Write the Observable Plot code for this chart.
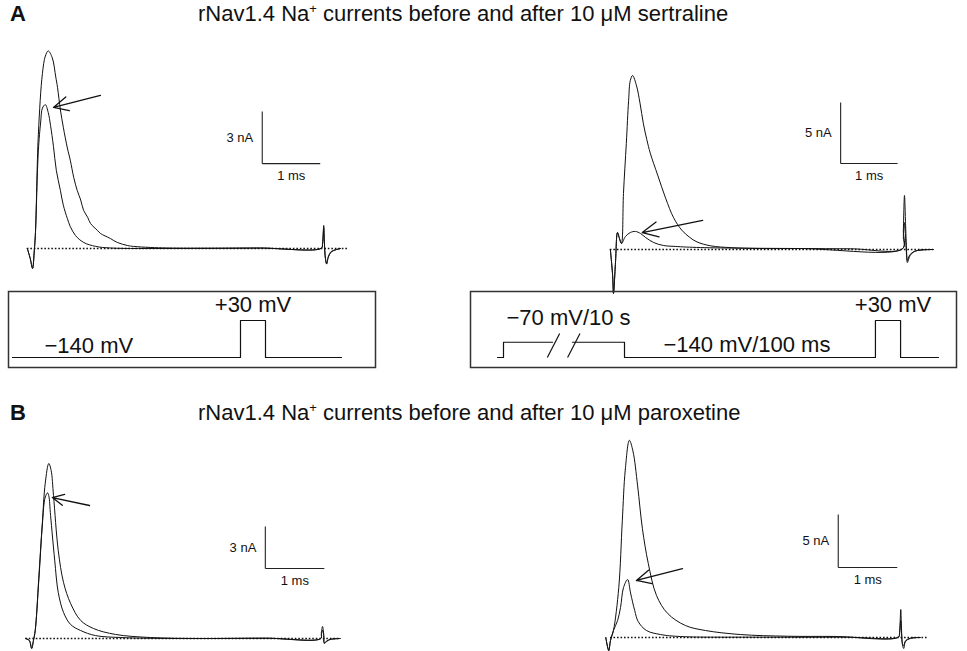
<!DOCTYPE html>
<html><head><meta charset="utf-8">
<script src="https://cdn.jsdelivr.net/npm/d3@7"></script>
<script src="https://cdn.jsdelivr.net/npm/@observablehq/plot@0.6"></script>
<style>
body{margin:0;background:#fff;}
#fig{position:relative;width:967px;height:651px;font-family:"Liberation Sans",Arial,Helvetica,sans-serif;color:#111;overflow:hidden;background:#fff}
.abs{position:absolute;white-space:nowrap}
.letter{font-weight:bold;font-size:22px;line-height:22px}
.title{font-size:22px;line-height:22px}
.title sup{font-size:13px;vertical-align:0;position:relative;top:-8px}
</style></head><body><div id="fig"></div>
<script>
// ---------------- data ----------------
const rowLetters = ["A", "B"];
const drugNames = ["sertraline", "paroxetine"];
const titleHead = "rNav1.4 Na";
const titleTail = " currents before and after 10 \u03bcM ";

// traces: [time (ms), current (nA)]
const aLeftControl = [[-0.02,0],[0.03,-0.58],[0.07,-1.15],[0.10,-0.12],[0.12,0.92],[0.17,6.6],[0.24,10.1],[0.29,11.1],[0.34,11.4],[0.41,11.0],[0.47,9.9],[0.50,9.3],[0.55,8.0],[0.60,7.0],[0.67,5.8],[0.72,5.1],[0.78,4.1],[0.84,3.35],[0.90,2.8],[0.95,2.2],[1.02,1.8],[1.07,1.44],[1.19,1.04],[1.24,0.87],[1.41,0.58],[1.53,0.35],[1.71,0.17],[1.81,0.12],[2.10,0.06],[2.40,0.03],[3.2,0.02],[4.0,0.03],[5.05,0.02],[5.07,0.3],[5.09,1.33],[5.10,0.46],[5.12,-0.58],[5.14,-0.87],[5.17,-0.46],[5.22,-0.17],[5.31,-0.06],[5.38,0]];
const aLeftDrug = [[-0.02,0],[0.03,-0.58],[0.07,-1.15],[0.10,-0.12],[0.12,0.92],[0.17,5.65],[0.21,7.3],[0.24,8.1],[0.29,8.3],[0.34,7.85],[0.38,7.1],[0.43,5.9],[0.48,4.5],[0.55,3.35],[0.60,2.5],[0.67,1.73],[0.72,1.27],[0.81,0.75],[0.95,0.35],[1.16,0.12],[1.41,0.03],[2.5,0],[4.0,0.02],[5.05,0.02],[5.07,0.3],[5.09,1.2],[5.10,0.4],[5.12,-0.6],[5.14,-0.9],[5.17,-0.5],[5.22,-0.2],[5.31,-0.06],[5.38,0]];
const aRightControl = [[-0.02,0],[0.02,-2.13],[0.035,-3.6],[0.07,-1.07],[0.105,1.39],[0.14,0.9],[0.175,0.49],[0.21,4.6],[0.26,8.7],[0.30,12.2],[0.33,13.85],[0.37,14.26],[0.44,13.4],[0.50,12.0],[0.56,10.3],[0.62,9.0],[0.68,7.9],[0.81,6.1],[0.95,4.2],[1.09,2.6],[1.23,1.6],[1.37,1.0],[1.50,0.62],[1.74,0.3],[2.1,0.15],[2.6,0.08],[3.32,0.08],[4.2,0.06],[5.11,0.08],[5.12,1.56],[5.14,4.43],[5.16,1.97],[5.18,-0.49],[5.19,-1.07],[5.24,-0.49],[5.31,-0.16],[5.45,-0.04],[5.65,0]];
const aRightDrug = [[-0.02,0],[0.02,-2.13],[0.035,-3.6],[0.07,-1.07],[0.105,1.39],[0.14,0.9],[0.175,0.49],[0.245,1.07],[0.33,1.39],[0.42,1.48],[0.51,1.31],[0.60,0.98],[0.74,0.57],[0.91,0.33],[1.12,0.25],[1.56,0.16],[3.32,0.08],[5.11,0.08],[5.12,1.07],[5.14,2.2],[5.16,0.9],[5.18,-0.66],[5.19,-0.9],[5.24,-0.4],[5.37,-0.08],[5.65,0]];
const bLeftControl = [[-0.08,0],[-0.02,-0.14],[0.02,-0.71],[0.05,-0.14],[0.08,0.57],[0.14,4.1],[0.20,8.2],[0.25,11.1],[0.31,12.5],[0.35,12.0],[0.39,10.2],[0.47,6.3],[0.56,4.0],[0.68,2.5],[0.85,1.29],[1.07,0.71],[1.44,0.29],[2.03,0.07],[2.88,0],[4.0,0.02],[4.92,0],[4.93,0.43],[4.95,0.86],[4.97,0.29],[4.98,-0.36],[5.02,-0.21],[5.08,-0.07],[5.25,0]];
const bLeftDrug = [[-0.08,0],[-0.02,-0.14],[0.02,-0.71],[0.05,-0.14],[0.08,0.57],[0.14,4.3],[0.20,8.1],[0.25,10.1],[0.29,10.4],[0.31,10.2],[0.34,8.8],[0.41,5.6],[0.47,3.3],[0.56,1.86],[0.68,1.0],[0.85,0.57],[1.10,0.21],[1.53,0.07],[2.5,0],[4.0,0.02],[4.92,0],[4.93,0.3],[4.95,0.6],[4.97,0.2],[4.98,-0.3],[5.02,-0.18],[5.08,-0.06],[5.25,0]];
const bRightControl = [[-0.08,0],[-0.03,-1.23],[0,-0.28],[0.05,0.66],[0.14,4.7],[0.20,11.0],[0.25,15.8],[0.32,18.6],[0.38,17.6],[0.46,14.3],[0.54,10.3],[0.64,7.0],[0.78,3.96],[0.97,2.26],[1.27,1.13],[1.61,0.66],[2.2,0.28],[3.0,0.12],[3.8,0.1],[4.88,0.05],[4.90,0.66],[4.92,2.64],[4.93,1.13],[4.95,-0.75],[4.97,-1.04],[5.0,-0.38],[5.08,-0.09],[5.25,0]];
const bRightDrug = [[-0.08,0],[-0.03,-1.23],[0,-0.28],[0.05,0.66],[0.12,1.6],[0.17,2.83],[0.22,4.7],[0.29,5.47],[0.34,4.2],[0.41,2.55],[0.47,1.5],[0.61,0.66],[0.85,0.28],[1.19,0.09],[2.5,0.03],[4.0,0.03],[4.88,0.03],[4.90,0.4],[4.92,1.6],[4.93,0.7],[4.95,-0.6],[4.97,-0.8],[5.0,-0.3],[5.08,-0.07],[5.25,0]];

// scale bars: [ms, nA]
const scaleBarMs = [1, 1, 1, 1];
const scaleBarNA = [3, 5, 3, 5];
const scaleBarLabels = ["3 nA", "5 nA", "3 nA", "5 nA"];

// stimulation protocols (schematic time units, mV)
const protoLeftTime = [0, 69.3, 69.3, 76.9, 76.9, 100];
const protoLeftVolt = [-140, -140, 30, 30, -140, -140];
const protoRightTime = [0, 1.36, 1.36, 12.5, 17.0, 28.8, 28.8, 85.7, 85.7, 91.4, 91.4, 100];
const protoRightVolt = [-140, -140, -70, -70, -70, -70, -140, -140, 30, 30, -140, -140];
const protoRightSegment = [0, 0, 0, 0, 1, 1, 1, 1, 1, 1, 1, 1];
const protoLeftLabels = ["\u2212140 mV", "+30 mV"];
const protoRightLabels = ["\u221270 mV/10 s", "\u2212140 mV/100 ms", "+30 mV"];

// ---------------- layout ----------------
const FONT = '"Liberation Sans", Arial, Helvetica, sans-serif';
const fig = document.getElementById("fig");
const svgStyle = {background: "transparent", overflow: "visible", maxWidth: "none", position: "absolute", fontFamily: FONT};

function place(node, left, top) {
  node.style.left = left + "px";
  node.style.top = top + "px";
  fig.appendChild(node);
}

// headers
const headerTop = [3, 402];
rowLetters.forEach((L, i) => {
  const d = document.createElement("div");
  d.className = "abs letter"; d.textContent = L;
  place(d, 10, headerTop[i]);
  const t = document.createElement("div");
  t.className = "abs title";
  t.append(titleHead);
  const s = document.createElement("sup"); s.textContent = "+"; t.append(s);
  t.append(titleTail + drugNames[i]);
  place(t, 198, headerTop[i]);
});

const toPts = a => a.map(([t, i]) => ({t, i}));

const panels = [
  {left: 0, top: 40, width: 380, height: 250, x0: 28, pxMs: 58, y0: 208, pxNA: 17.33,
   ctrl: aLeftControl, drug: aLeftDrug, dotted: [-0.02, 5.5], bar: {t: 4.03, i: 4.9},
   arrow: {t1: 1.24, i1: 8.83, t2: 0.43, i2: 8.14}},
  {left: 590, top: 40, width: 377, height: 260, x0: 21, pxMs: 57, y0: 209, pxNA: 12.2,
   ctrl: aRightControl, drug: aRightDrug, dotted: [-0.02, 5.65], bar: {t: 4.02, i: 7.05},
   arrow: {t1: 1.60, i1: 2.38, t2: 0.54, i2: 1.39}},
  {left: 0, top: 440, width: 380, height: 211, x0: 30, pxMs: 59, y0: 198, pxNA: 14,
   ctrl: bLeftControl, drug: bLeftDrug, dotted: [-0.08, 5.25], bar: {t: 3.98, i: 5.0},
   arrow: {t1: 1.0, i1: 9.5, t2: 0.37, i2: 10.07}},
  {left: 590, top: 425, width: 377, height: 226, x0: 20, pxMs: 59, y0: 212, pxNA: 10.6,
   ctrl: bRightControl, drug: bRightDrug, dotted: [0, 5.37], bar: {t: 3.86, i: 6.6},
   arrow: {t1: 1.22, i1: 6.5, t2: 0.44, i2: 5.38}}
];

panels.forEach((p, k) => {
  const ms = scaleBarMs[k], na = scaleBarNA[k];
  const b = p.bar;
  const svg = Plot.plot({
    width: p.width, height: p.height, margin: 0,
    style: svgStyle,
    x: {axis: null, domain: [0, 1], range: [p.x0, p.x0 + p.pxMs]},
    y: {axis: null, domain: [0, 1], range: [p.y0, p.y0 - p.pxNA]},
    marks: [
      Plot.ruleY([0], {x1: p.dotted[0], x2: p.dotted[1], stroke: "#111", strokeWidth: 1.6, strokeDasharray: "1.6,1.9"}),
      Plot.line(toPts(p.ctrl), {x: "t", y: "i", stroke: "#111", strokeWidth: 1, curve: "catmull-rom"}),
      Plot.line(toPts(p.drug), {x: "t", y: "i", stroke: "#111", strokeWidth: 1, curve: "catmull-rom"}),
      Plot.arrow([p.arrow], {x1: "t1", y1: "i1", x2: "t2", y2: "i2", stroke: "#111", strokeWidth: 1.3, headLength: 20, headAngle: 52}),
      Plot.link([{x1: b.t, y1: b.i, x2: b.t, y2: b.i + na}, {x1: b.t, y1: b.i, x2: b.t + ms, y2: b.i}],
        {x1: "x1", y1: "y1", x2: "x2", y2: "y2", stroke: "#222", strokeWidth: 1.1}),
      Plot.text([scaleBarLabels[k]], {x: b.t, y: b.i + na / 2, text: d => d, textAnchor: "end", dx: -9, fontSize: 13, fill: "#111"}),
      Plot.text([`${ms} ms`], {x: b.t + ms / 2, y: b.i, text: d => d, lineAnchor: "top", dy: 7, fontSize: 13, fill: "#111"})
    ]
  });
  place(svg, p.left, p.top);
});

// protocol panels (box top at y=291, holding line at 357, +30 mV level at 320)
const Vscale = {axis: null, domain: [-140, 30], range: [67, 30]};

const protoLeft = Plot.plot({
  width: 369, height: 78, margin: 1, style: svgStyle,
  x: {axis: null, domain: [0, 100], range: [5, 334]},
  y: Vscale,
  marks: [
    Plot.frame({stroke: "#333", strokeWidth: 1.5}),
    Plot.line(protoLeftTime.map((t, j) => ({t, v: protoLeftVolt[j]})), {x: "t", y: "v", stroke: "#111", strokeWidth: 1.2}),
    Plot.text([protoLeftLabels[0]], {x: protoLeftTime[0], y: protoLeftVolt[0], text: d => d, textAnchor: "start", dx: 32, dy: -12, fontSize: 22, fill: "#111"}),
    Plot.text([protoLeftLabels[1]], {x: (protoLeftTime[2] + protoLeftTime[3]) / 2, y: protoLeftVolt[2], text: d => d, dy: -16, fontSize: 22, fill: "#111"})
  ]
});
place(protoLeft, 7, 290);

const protoRightData = protoRightTime.map((t, j) => ({t, v: protoRightVolt[j], s: protoRightSegment[j]}));
const breakStart = protoRightTime[3], breakEnd = protoRightTime[4];
const protoRight = Plot.plot({
  width: 488, height: 78, margin: 1, style: svgStyle,
  x: {axis: null, domain: [0, 100], range: [28, 469]},
  y: Vscale,
  marks: [
    Plot.frame({stroke: "#333", strokeWidth: 1.5}),
    Plot.line(protoRightData, {x: "t", y: "v", z: "s", stroke: "#111", strokeWidth: 1.2}),
    Plot.link([breakStart - 1.2, breakEnd - 1.1], {x1: d => d, x2: d => d + 2.8, y1: -140, y2: -30, stroke: "#111", strokeWidth: 1.2}),
    Plot.text([protoRightLabels[0]], {x: protoRightTime[2], y: protoRightVolt[2], text: d => d, textAnchor: "start", dx: 3, dy: -24, fontSize: 22, fill: "#111"}),
    Plot.text([protoRightLabels[1]], {x: protoRightTime[5], y: protoRightVolt[6], text: d => d, textAnchor: "start", dx: 39, dy: -13, fontSize: 22, fill: "#111"}),
    Plot.text([protoRightLabels[2]], {x: (protoRightTime[8] + protoRightTime[9]) / 2, y: protoRightVolt[8], text: d => d, dx: 5, dy: -16, fontSize: 22, fill: "#111"})
  ]
});
place(protoRight, 469, 290);
</script></body></html>
